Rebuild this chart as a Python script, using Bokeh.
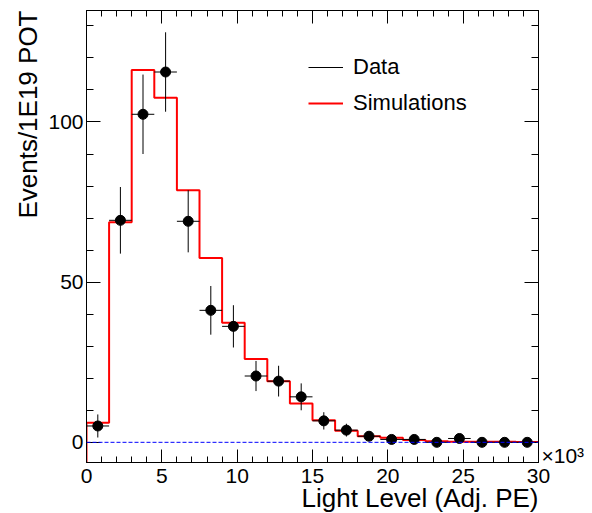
import math
from bokeh.plotting import figure
from bokeh.models import (Range1d, LinearAxis, SingleIntervalTicker, FixedTicker, Span,
                          Legend, LegendItem, ColumnDataSource, Title)
from bokeh.embed import file_html
from bokeh.resources import INLINE

# ---- data (x in units of 10^3 Adj. PE) ----
bin_centers = [0.75, 2.25, 3.75, 5.25, 6.75, 8.25, 9.75, 11.25, 12.75, 14.25,
               15.75, 17.25, 18.75, 20.25, 21.75, 23.25, 24.75, 26.25, 27.75, 29.25]
bin_half_width = 0.75
data_counts = [5.1, 69.3, 102.4, 115.6, 69.0, 41.2, 36.2, 20.7, 19.1, 14.2,
               6.7, 3.8, 1.9, 0.9, 0.9, 0.0, 1.2, 0.0, 0.0, 0.0]
data_errors = [3.6, 10.4, 12.4, 12.4, 9.7, 7.6, 6.6, 4.7, 4.8, 4.2,
               2.7, 2.0, 1.2, 0.8, 0.8, 0.0, 1.0, 0.0, 0.0, 0.0]
sim_counts = [6.1, 68.7, 116.2, 107.6, 78.7, 57.5, 37.3, 26.0, 19.1, 12.1,
              6.9, 3.6, 1.9, 1.4, 0.7, 0.3, 0.2, 0.2, 0.15, 0.1]

x_major_step, x_minor_step = 5, 1
y_major_step, y_minor_step = 50, 10
X_MIN, X_MAX = 0, 30
Y_MIN, Y_MAX = -6.3, 134.8
EXPONENT_LABEL_Y = -4.0   # where the "x10^3" multiplier sits, beside the x axis

FONT = "Liberation Sans"

p = figure(width=592, height=513, output_backend="svg", toolbar_location=None,
           x_range=Range1d(X_MIN, X_MAX), y_range=Range1d(Y_MIN, Y_MAX),
           x_axis_type=None, y_axis_type=None,
           min_border_left=86, min_border_right=54, min_border_top=10, min_border_bottom=51)
p.outline_line_color = "black"
p.outline_line_width = 1
p.background_fill_color = "white"
p.border_fill_color = "white"


def style_ticks(ax, tin, mtin):
    ax.major_tick_in = tin
    ax.major_tick_out = 0
    ax.minor_tick_in = mtin
    ax.minor_tick_out = 0
    ax.axis_line_color = "black"
    ax.major_tick_line_color = "black"
    ax.minor_tick_line_color = "black"
    ax.major_label_text_font = FONT
    ax.major_label_text_color = "black"
    ax.major_label_text_font_size = "21px"


def labelled_axis(step, tin, mtin, standoff):
    ax = LinearAxis(ticker=SingleIntervalTicker(interval=step, num_minor_ticks=5))
    style_ticks(ax, tin, mtin)
    ax.major_label_standoff = standoff
    return ax


def tick_only_axis(positions, length):
    # mirror ticks (no labels): all positions drawn as "minor" ticks of given length
    ax = LinearAxis(ticker=FixedTicker(ticks=[], minor_ticks=positions))
    style_ticks(ax, 0, length)
    ax.major_label_standoff = 0
    return ax


x_major_pos = list(range(X_MIN, X_MAX + 1, x_major_step))
x_minor_pos = [v for v in range(X_MIN, X_MAX + 1, x_minor_step) if v % x_major_step]
y_major_pos = list(range(0, int(Y_MAX) + 1, y_major_step))
y_minor_pos = [v for v in range(0, int(Y_MAX) + 1, y_minor_step) if v % y_major_step]

p.add_layout(labelled_axis(x_major_step, 13, 6, 6), "below")
p.add_layout(labelled_axis(y_major_step, 14, 7, 3), "left")
p.add_layout(tick_only_axis(x_major_pos, 13), "above")
p.add_layout(tick_only_axis(x_minor_pos, 6), "above")
p.add_layout(tick_only_axis(y_major_pos, 14), "right")
p.add_layout(tick_only_axis(y_minor_pos, 7), "right")

# "x10^3" multiplier shown next to the end of the x axis (ROOT style)
exp_axis = LinearAxis(ticker=FixedTicker(ticks=[EXPONENT_LABEL_Y], minor_ticks=[]),
                      major_label_overrides={EXPONENT_LABEL_Y: "\u00d710\u00b3"})
exp_axis.axis_line_alpha = 0
exp_axis.major_tick_line_alpha = 0
exp_axis.major_tick_in = 0
exp_axis.major_tick_out = 0
exp_axis.major_label_standoff = 3
exp_axis.major_label_text_font = FONT
exp_axis.major_label_text_font_size = "21px"
exp_axis.major_label_text_color = "black"
p.add_layout(exp_axis, "right")

# simulation step histogram
edges = [c - bin_half_width for c in bin_centers] + [bin_centers[-1] + bin_half_width]
sx = [edges[0]]
sy = [Y_MIN]
for i, v in enumerate(sim_counts):
    sx += [edges[i], edges[i + 1]]
    sy += [v, v]
sim_r = p.line(sx, sy, line_color="#ff0000", line_width=2)

# zero line
p.add_layout(Span(location=0, dimension="width", line_color="blue",
                  line_dash="4 2", line_width=1))

# data with error bars
src = ColumnDataSource(dict(
    x=bin_centers, y=data_counts,
    lo=[v - e for v, e in zip(data_counts, data_errors)],
    hi=[v + e for v, e in zip(data_counts, data_errors)],
    xl=[c - bin_half_width for c in bin_centers],
    xr=[c + bin_half_width for c in bin_centers],
))
herr = p.segment(x0="xl", x1="xr", y0="y", y1="y", source=src, line_color="black", line_width=1)
verr = p.segment(x0="x", x1="x", y0="lo", y1="hi", source=src, line_color="black", line_width=1)
p.scatter("x", "y", source=src, size=10, color="black")

legend = Legend(items=[LegendItem(label="Data", renderers=[herr]),
                       LegendItem(label="Simulations", renderers=[sim_r])],
                location=(222, 346))
legend.label_text_font = FONT
legend.label_text_font_size = "22px"
legend.label_text_color = "black"
legend.glyph_width = 35
legend.glyph_height = 20
legend.label_height = 20
legend.label_standoff = 10
legend.spacing = 10
legend.padding = 0
legend.margin = 0
legend.border_line_alpha = 0
legend.background_fill_alpha = 0
p.add_layout(legend)

# axis titles (ROOT style, right aligned)
ytitle = Title(text="Events/1E19 POT", align="right", text_font=FONT,
               text_font_size="26px", text_font_style="normal", text_color="black",
               standoff=6)
p.add_layout(ytitle, "left")
xtitle = Title(text="Light Level (Adj. PE)", align="right", text_font=FONT,
               text_font_size="26px", text_font_style="normal", text_color="black",
               standoff=-9)
p.add_layout(xtitle, "below")

open("out.html", "w").write(file_html(p, INLINE))
